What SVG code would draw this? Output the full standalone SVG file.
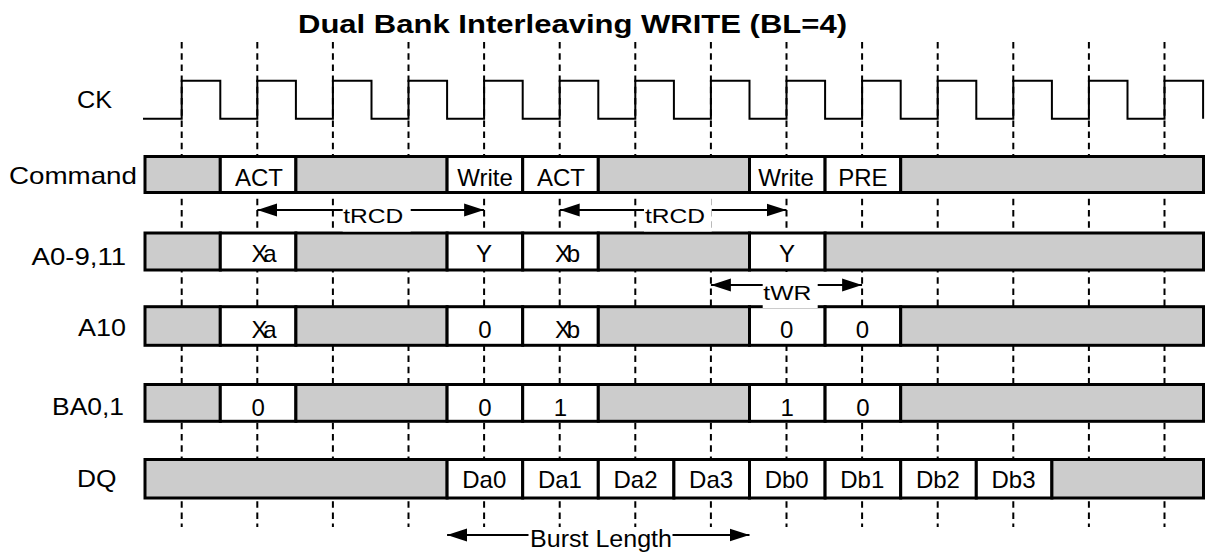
<svg xmlns="http://www.w3.org/2000/svg" width="1206" height="553" viewBox="0 0 1206 553">
<defs>
<marker id="ah" markerUnits="userSpaceOnUse" markerWidth="20" markerHeight="14" refX="20" refY="7" orient="auto-start-reverse"><path d="M0,0.5 L20,7 L0,13.5 z" fill="#000"/></marker>
<style>
text{font-family:"Liberation Sans",Arial,sans-serif;fill:#000}
.t{font-size:24px}
.c{font-size:24px;text-anchor:middle}
.g{fill:#cccccc;stroke:#000;stroke-width:3}
.w{fill:#fff;stroke:#000;stroke-width:3}
.d{stroke:#000;stroke-width:2;stroke-dasharray:6.5 4.7;fill:none}
.a{stroke:#000;stroke-width:2;fill:none;marker-start:url(#ah);marker-end:url(#ah)}
.bx{fill:#fff;stroke:none}
</style>
</defs>
<rect width="1206" height="553" fill="#fff"/>
<text x="298" y="33" font-size="26" font-weight="bold" textLength="549" lengthAdjust="spacingAndGlyphs">Dual Bank Interleaving WRITE (BL=4)</text>
<g id="gridlines">
<line class="d" x1="181.7" y1="42" x2="181.7" y2="527"/>
<line class="d" x1="257.3" y1="42" x2="257.3" y2="527"/>
<line class="d" x1="332.9" y1="42" x2="332.9" y2="527"/>
<line class="d" x1="408.5" y1="42" x2="408.5" y2="527"/>
<line class="d" x1="484.1" y1="42" x2="484.1" y2="527"/>
<line class="d" x1="559.7" y1="42" x2="559.7" y2="527"/>
<line class="d" x1="635.3" y1="42" x2="635.3" y2="527"/>
<line class="d" x1="710.9" y1="42" x2="710.9" y2="527"/>
<line class="d" x1="786.5" y1="42" x2="786.5" y2="527"/>
<line class="d" x1="862.1" y1="42" x2="862.1" y2="527"/>
<line class="d" x1="937.7" y1="42" x2="937.7" y2="527"/>
<line class="d" x1="1013.3" y1="42" x2="1013.3" y2="527"/>
<line class="d" x1="1088.9" y1="42" x2="1088.9" y2="527"/>
<line class="d" x1="1164.5" y1="42" x2="1164.5" y2="527"/>
</g>
<g id="labels">
<text class="t" x="77" y="108" textLength="35" lengthAdjust="spacingAndGlyphs">CK</text>
<text class="t" x="9" y="184" textLength="128" lengthAdjust="spacingAndGlyphs">Command</text>
<text class="t" x="31.5" y="265" textLength="94.5" lengthAdjust="spacingAndGlyphs">A0-9,11</text>
<text class="t" x="78" y="336" textLength="48" lengthAdjust="spacingAndGlyphs">A10</text>
<text class="t" x="52" y="415" textLength="72" lengthAdjust="spacingAndGlyphs">BA0,1</text>
<text class="t" x="77" y="487" textLength="39.5" lengthAdjust="spacingAndGlyphs">DQ</text>
</g>
<g id="ck">
<path d="M143,118.7 H181.7 V80.7 H220.3 V118.7 H257.3 V80.7 H295.9 V118.7 H332.9 V80.7 H371.5 V118.7 H408.5 V80.7 H447.1 V118.7 H484.1 V80.7 H522.7 V118.7 H559.7 V80.7 H598.3 V118.7 H635.3 V80.7 H673.9 V118.7 H710.9 V80.7 H749.5 V118.7 H786.5 V80.7 H825.1 V118.7 H862.1 V80.7 H900.7 V118.7 H937.7 V80.7 H976.3 V118.7 H1013.3 V80.7 H1051.9 V118.7 H1088.9 V80.7 H1127.5 V118.7 H1164.5 V80.7 H1203.1 V118.7" fill="none" stroke="#000" stroke-width="2"/>
</g>
<g id="command">
<rect class="g" x="145" y="156.5" width="75.3" height="36"/>
<rect class="w" x="220.3" y="156.5" width="75.6" height="36"/>
<rect class="g" x="295.9" y="156.5" width="151.2" height="36"/>
<rect class="w" x="447.1" y="156.5" width="75.6" height="36"/>
<rect class="w" x="522.7" y="156.5" width="75.6" height="36"/>
<rect class="g" x="598.3" y="156.5" width="151.2" height="36"/>
<rect class="w" x="749.5" y="156.5" width="75.6" height="36"/>
<rect class="w" x="825.1" y="156.5" width="75.6" height="36"/>
<rect class="g" x="900.7" y="156.5" width="302.8" height="36"/>
<text class="c" x="259" y="185.5">ACT</text>
<text class="c" x="485" y="185.5">Write</text>
<text class="c" x="561" y="185.5">ACT</text>
<text class="c" x="786" y="185.5">Write</text>
<text class="c" x="862.9" y="185.5">PRE</text>
</g>
<g id="a0-9_11">
<rect class="g" x="145" y="233" width="75.3" height="37"/>
<rect class="w" x="220.3" y="233" width="75.6" height="37"/>
<rect class="g" x="295.9" y="233" width="151.2" height="37"/>
<rect class="w" x="447.1" y="233" width="75.6" height="37"/>
<rect class="w" x="522.7" y="233" width="75.6" height="37"/>
<rect class="g" x="598.3" y="233" width="151.2" height="37"/>
<rect class="w" x="749.5" y="233" width="75.6" height="37"/>
<rect class="g" x="825.1" y="233" width="378.4" height="37"/>
<text class="t" x="251.5" y="261.7" textLength="25" lengthAdjust="spacing">Xa</text>
<text class="c" x="484" y="261.7">Y</text>
<text class="t" x="555" y="261.7" textLength="25" lengthAdjust="spacing">Xb</text>
<text class="c" x="787" y="261.7">Y</text>
</g>
<g id="a10">
<rect class="g" x="145" y="306.7" width="75.3" height="38.6"/>
<rect class="w" x="220.3" y="306.7" width="75.6" height="38.6"/>
<rect class="g" x="295.9" y="306.7" width="151.2" height="38.6"/>
<rect class="w" x="447.1" y="306.7" width="75.6" height="38.6"/>
<rect class="w" x="522.7" y="306.7" width="75.6" height="38.6"/>
<rect class="g" x="598.3" y="306.7" width="151.2" height="38.6"/>
<rect class="w" x="749.5" y="306.7" width="75.6" height="38.6"/>
<rect class="w" x="825.1" y="306.7" width="75.6" height="38.6"/>
<rect class="g" x="900.7" y="306.7" width="302.8" height="38.6"/>
<text class="t" x="251.5" y="337.6" textLength="25" lengthAdjust="spacing">Xa</text>
<text class="c" x="484.9" y="337.6">0</text>
<text class="t" x="555" y="337.6" textLength="25" lengthAdjust="spacing">Xb</text>
<text class="c" x="786.7" y="337.6">0</text>
<text class="c" x="862.5" y="337.6">0</text>
</g>
<g id="ba0_1">
<rect class="g" x="145" y="384.5" width="75.3" height="36.8"/>
<rect class="w" x="220.3" y="384.5" width="75.6" height="36.8"/>
<rect class="g" x="295.9" y="384.5" width="151.2" height="36.8"/>
<rect class="w" x="447.1" y="384.5" width="75.6" height="36.8"/>
<rect class="w" x="522.7" y="384.5" width="75.6" height="36.8"/>
<rect class="g" x="598.3" y="384.5" width="151.2" height="36.8"/>
<rect class="w" x="749.5" y="384.5" width="75.6" height="36.8"/>
<rect class="w" x="825.1" y="384.5" width="75.6" height="36.8"/>
<rect class="g" x="900.7" y="384.5" width="302.8" height="36.8"/>
<text class="c" x="258.3" y="415.5">0</text>
<text class="c" x="484.9" y="415.5">0</text>
<text class="c" x="560.5" y="415.5">1</text>
<text class="c" x="787.3" y="415.5">1</text>
<text class="c" x="862.9" y="415.5">0</text>
</g>
<g id="dq">
<rect class="g" x="145" y="459.5" width="302.1" height="38.5"/>
<rect class="w" x="447.1" y="459.5" width="75.6" height="38.5"/>
<rect class="w" x="522.7" y="459.5" width="75.6" height="38.5"/>
<rect class="w" x="598.3" y="459.5" width="75.6" height="38.5"/>
<rect class="w" x="673.9" y="459.5" width="75.6" height="38.5"/>
<rect class="w" x="749.5" y="459.5" width="75.6" height="38.5"/>
<rect class="w" x="825.1" y="459.5" width="75.6" height="38.5"/>
<rect class="w" x="900.7" y="459.5" width="75.6" height="38.5"/>
<rect class="w" x="976.3" y="459.5" width="75.6" height="38.5"/>
<rect class="g" x="1051.9" y="459.5" width="151.6" height="38.5"/>
<text class="c" x="484.3" y="488.3">Da0</text>
<text class="c" x="559.9" y="488.3">Da1</text>
<text class="c" x="635.5" y="488.3">Da2</text>
<text class="c" x="711.1" y="488.3">Da3</text>
<text class="c" x="786.7" y="488.3">Db0</text>
<text class="c" x="862.3" y="488.3">Db1</text>
<text class="c" x="937.9" y="488.3">Db2</text>
<text class="c" x="1013.5" y="488.3">Db3</text>
</g>
<g id="connectors">
<line class="a" x1="257.3" y1="210" x2="484.1" y2="210"/>
<rect class="bx" x="342.7" y="198" width="68" height="33.5"/>
<text x="343.3" y="223.3" font-size="21" textLength="60" lengthAdjust="spacingAndGlyphs">tRCD</text>
<line class="a" x1="559.7" y1="210" x2="786.5" y2="210"/>
<rect class="bx" x="644" y="198" width="67.7" height="33.5"/>
<text x="645" y="223.3" font-size="21" textLength="60" lengthAdjust="spacingAndGlyphs">tRCD</text>
<line class="a" x1="710.9" y1="285" x2="862.1" y2="285"/>
<rect class="bx" x="762.7" y="272" width="55" height="36"/>
<text x="763.3" y="300" font-size="21" textLength="48" lengthAdjust="spacingAndGlyphs">tWR</text>
<line class="a" x1="447.1" y1="535" x2="749.5" y2="535"/>
<rect class="bx" x="528.5" y="529" width="144" height="24"/>
<text x="530" y="546.7" font-size="23" textLength="142" lengthAdjust="spacingAndGlyphs">Burst Length</text>
</g>
</svg>
